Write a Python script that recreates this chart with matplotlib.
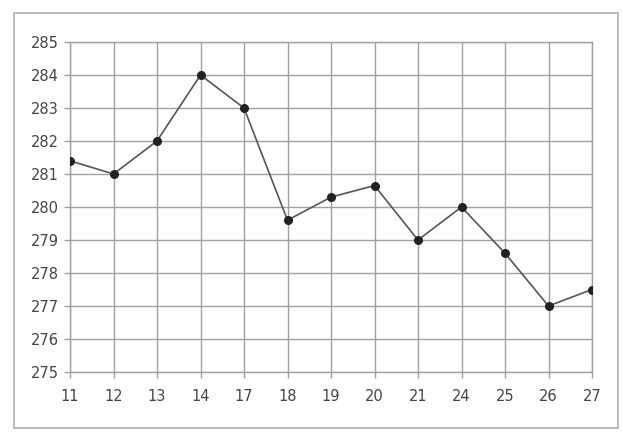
import matplotlib
matplotlib.use("Agg")
import matplotlib.pyplot as plt
from matplotlib.patches import Rectangle

categories = ["11", "12", "13", "14", "17", "18", "19", "20", "21", "24", "25", "26", "27"]
values = [281.4, 281.0, 282.0, 284.0, 283.0, 279.6, 280.3, 280.65, 279.0, 280.0, 278.6, 277.0, 277.5]
y_ticks = list(range(275, 286))

fig = plt.figure(figsize=(6.23, 4.32), dpi=100)
fig.patches.append(Rectangle((14/623, 1-428/432), (618-14)/623, (428-13)/432,
                             transform=fig.transFigure, fill=False,
                             edgecolor="#b0b0b0", linewidth=1.2))
ax = fig.add_axes([70/623, 1-372/432, (592-70)/623, (372-42)/432])

x = list(range(len(categories)))
ax.plot(x, values, color="#555555", linewidth=1.2, marker="o",
        markersize=5.5, markerfacecolor="#222222", markeredgecolor="#222222", zorder=3)

ax.set_xlim(0, len(categories)-1)
ax.set_ylim(275, 285)
ax.set_xticks(x)
ax.set_xticklabels(categories)
ax.set_yticks(y_ticks)
ax.grid(True, color="#a0a0a0", linewidth=1.0)
for s in ax.spines.values():
    s.set_color("#a0a0a0")
    s.set_linewidth(1.0)
ax.tick_params(axis="both", colors="#a0a0a0", labelcolor="#444444",
               labelsize=10.5, length=4, width=1.0)
ax.tick_params(axis="x", pad=8)
ax.tick_params(axis="y", pad=4)

fig.savefig("out.png", dpi=100)
